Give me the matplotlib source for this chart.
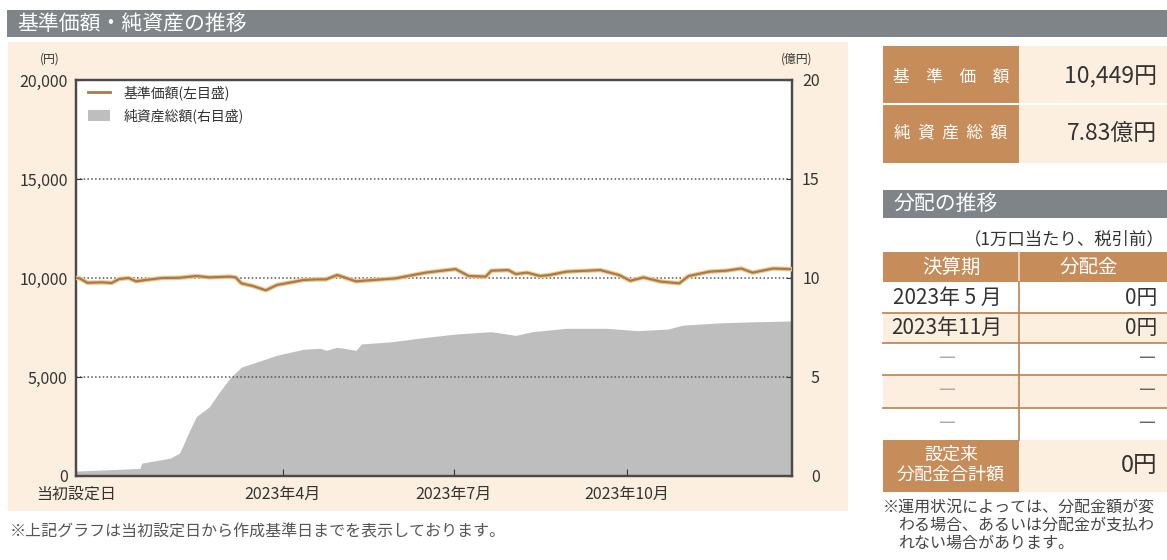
import matplotlib
matplotlib.use("Agg")
import matplotlib.pyplot as plt
from matplotlib.patches import Rectangle, Patch
from matplotlib.lines import Line2D
import pandas as pd

plt.rcParams['font.family'] = ['Noto Sans CJK JP', 'DejaVu Sans']

W, H = 1167, 560

# NAV per 10,000 units (yen)
nav_dates = ['2022-12-12', '2022-12-14', '2022-12-18', '2022-12-26', '2022-12-31',
             '2023-01-04', '2023-01-09', '2023-01-13', '2023-01-18', '2023-01-27',
             '2023-02-05', '2023-02-14', '2023-02-21', '2023-03-04', '2023-03-07',
             '2023-03-10', '2023-03-16', '2023-03-23', '2023-03-29', '2023-04-05',
             '2023-04-12', '2023-04-19', '2023-04-24', '2023-04-30', '2023-05-10',
             '2023-05-15', '2023-05-31', '2023-06-16', '2023-07-02', '2023-07-09',
             '2023-07-18', '2023-07-21', '2023-07-30', '2023-08-03', '2023-08-09',
             '2023-08-16', '2023-08-21', '2023-08-30', '2023-09-17', '2023-09-27',
             '2023-10-03', '2023-10-10', '2023-10-19', '2023-10-29', '2023-11-03',
             '2023-11-14', '2023-11-23', '2023-12-01', '2023-12-07', '2023-12-18',
             '2023-12-27']
nav_values = [10000, 9980, 9760, 9780, 9750,
              9950, 10000, 9830, 9900, 10000,
              10010, 10100, 10030, 10070, 10030,
              9730, 9600, 9380, 9650, 9770,
              9900, 9930, 9930, 10150, 9830,
              9870, 9980, 10270, 10450, 10100,
              10070, 10370, 10400, 10200, 10270,
              10100, 10150, 10320, 10400, 10150,
              9860, 10030, 9820, 9730, 10100,
              10320, 10370, 10480, 10270, 10480,
              10449]

# net assets (100 million yen)
asset_dates = ['2022-12-12', '2023-01-15', '2023-01-16', '2023-01-31', '2023-02-05',
               '2023-02-07', '2023-02-10', '2023-02-14', '2023-02-21', '2023-02-26',
               '2023-03-04', '2023-03-10', '2023-03-18', '2023-03-29', '2023-04-12',
               '2023-04-21', '2023-04-24', '2023-04-30', '2023-05-10', '2023-05-13',
               '2023-05-29', '2023-06-16', '2023-07-02', '2023-07-21', '2023-08-03',
               '2023-08-12', '2023-08-30', '2023-09-20', '2023-10-07', '2023-10-23',
               '2023-10-31', '2023-11-21', '2023-12-09', '2023-12-28']
asset_values = [0.25, 0.38, 0.65, 0.9, 1.15,
                1.55, 2.2, 3.0, 3.5, 4.2,
                4.95, 5.5, 5.75, 6.1, 6.4,
                6.45, 6.35, 6.5, 6.35, 6.67,
                6.78, 7.0, 7.17, 7.29, 7.1,
                7.29, 7.46, 7.46, 7.34, 7.42,
                7.62, 7.74, 7.79, 7.83]

x_tick_dates = ['2022-12-12', '2023-04-01', '2023-07-01', '2023-10-01']
x_tick_labels = ['当初設定日', '2023年4月', '2023年7月', '2023年10月']
left_ticks = [0, 5000, 10000, 15000, 20000]
right_ticks = [0, 5, 10, 15, 20]

nav_latest = '10,449円'
asset_latest = '7.83億円'
dist_periods = ['2023年 5 月', '2023年11月', '－', '－', '－']
dist_amounts = ['0円', '0円', '－', '－', '－']
dist_total = '0円'

GRAY_HEAD = '#7e8487'
CREAM = '#fdefdf'
BROWN = '#c68d5a'
TEXT = '#333333'

fig = plt.figure(figsize=(W / 100, H / 100), dpi=100)


def box(x0, y0, x1, y1, color):
    fig.patches.append(Rectangle((x0 / W, 1 - y1 / H), (x1 - x0) / W, (y1 - y0) / H,
                                 transform=fig.transFigure, facecolor=color,
                                 edgecolor='none', zorder=-1))


def hline(x0, x1, y, color, lw=1.5):
    fig.add_artist(Line2D([x0 / W, x1 / W], [1 - y / H, 1 - y / H],
                          transform=fig.transFigure, color=color, lw=lw))


def vline(x, y0, y1, color, lw=1.2):
    fig.add_artist(Line2D([x / W, x / W], [1 - y0 / H, 1 - y1 / H],
                          transform=fig.transFigure, color=color, lw=lw))


def txt(x, y, s, **kw):
    kw.setdefault('va', 'center')
    kw.setdefault('color', TEXT)
    fig.text(x / W, 1 - y / H, s, **kw)


# headers and background panels
box(7, 10, W, 37, GRAY_HEAD)
txt(17, 24, '基準価額・純資産の推移', color='white', fontsize=15)
box(8, 42, 848, 511, CREAM)

# chart
nav_x = pd.to_datetime(nav_dates)
asset_x = pd.to_datetime(asset_dates)
ticks_x = pd.to_datetime(x_tick_dates)

ax = fig.add_axes([76 / W, 1 - 476 / H, (792 - 76) / W, (476 - 80) / H])
ax2 = ax.twinx()
ax.set_zorder(2)
ax2.set_zorder(1)
ax.patch.set_visible(False)
ax2.patch.set_visible(True)
ax2.set_facecolor('white')

ax2.fill_between(asset_x, asset_values, color='#bebebe', lw=0)
ax2.set_ylim(0, 20)
ax2.set_yticks(right_ticks)
for lab in ax2.get_yticklabels():
    lab.set_ha('right')

for g in left_ticks[1:-1]:
    ax.axhline(g, color='#555555', lw=1.1, ls=(0, (1, 1.5)), zorder=1)
ax.plot(nav_x, nav_values, color='#f2c690', lw=3.2, zorder=3, solid_joinstyle='round')
ax.plot(nav_x, nav_values, color='#a97b47', lw=1.6, zorder=4, solid_joinstyle='round')
ax.set_ylim(0, 20000)
ax.set_yticks(left_ticks)
ax.set_yticklabels([f'{v:,}' for v in left_ticks])
ax.set_xlim(pd.Timestamp('2022-12-12'), pd.Timestamp('2023-12-28'))
ax.set_xticks(ticks_x)
ax.set_xticklabels(x_tick_labels)

for a in (ax, ax2):
    for s in a.spines.values():
        s.set_color('#4a4a4a')
        s.set_linewidth(1.6)
ax.tick_params(axis='y', direction='in', length=4, color='#333333', labelsize=11.5,
               labelcolor=TEXT, pad=6)
ax2.tick_params(axis='y', direction='in', length=4, color='#333333', labelsize=11.5,
                labelcolor=TEXT, pad=20)
ax.tick_params(axis='x', direction='in', length=5, color='#333333', labelsize=11.5,
               labelcolor=TEXT, pad=7)

handles = [Line2D([], [], color='#a97b47', lw=2),
           Patch(facecolor='#bebebe', edgecolor='none')]
ax.legend(handles, ['基準価額(左目盛)', '純資産総額(右目盛)'], loc='upper left',
          bbox_to_anchor=(0.009, 1.0), frameon=False, fontsize=10,
          borderaxespad=0.2, borderpad=0.2,
          handlelength=1.6, handleheight=0.8, labelspacing=0.6, handletextpad=0.95,
          labelcolor=TEXT)

txt(50, 59, '(円)', fontsize=8.5, ha='center')
txt(797, 59, '(億円)', fontsize=8.5, ha='center')

txt(10, 532, '※上記グラフは当初設定日から作成基準日までを表示しております。',
    fontsize=11.5, color='#555555')

# right panel: latest values
box(883, 46, 1019, 163, BROWN)
box(1019, 46, W, 163, CREAM)
hline(883, W, 104, 'white', lw=1.5)
txt(951, 77, '基　準　価　額', color='white', fontsize=12, ha='center')
txt(951, 133, '純  資  産  総  額', color='white', fontsize=12, ha='center')
txt(1157, 77, nav_latest, fontsize=16.5, ha='right')
txt(1157, 133, asset_latest, fontsize=16.5, ha='right')

# distribution table
box(883, 190, W, 218, GRAY_HEAD)
txt(894, 204, '分配の推移', color='white', fontsize=15)
txt(1165, 239, '（1万口当たり、税引前）', fontsize=12.5, ha='right')
box(883, 252, W, 282, BROWN)
txt(951, 267, '決算期', color='white', fontsize=14, ha='center')
txt(1089, 267, '分配金', color='white', fontsize=14, ha='center')

row_edges = [282, 313, 343, 375, 408, 440]
for i, (p, a) in enumerate(zip(dist_periods, dist_amounts)):
    y0, y1 = row_edges[i], row_edges[i + 1]
    box(883, y0, W, y1, 'white' if i % 2 == 0 else CREAM)
    yc = (y0 + y1) / 2
    txt(947, yc, p, fontsize=15, ha='center', color='#aaaaaa' if p == '－' else TEXT)
    txt(1157, yc, a, fontsize=15, ha='right', color='#666666' if a == '－' else TEXT)
    if i > 0:
        hline(883, W, y0, '#c08a58', lw=1.3)
vline(1019, 252, 282, '#f3dcc4', lw=1.2)
vline(1019, 282, 440, '#b98552', lw=1.2)

box(883, 440, 1019, 492, BROWN)
box(1019, 440, W, 492, CREAM)
txt(951, 455, '設定来', color='white', fontsize=13, ha='center')
txt(951, 475, '分配金合計額', color='white', fontsize=13, ha='center')
txt(1157, 466, dist_total, fontsize=17, ha='right')

txt(883, 507, '※運用状況によっては、分配金額が変', fontsize=11.5, color='#444444')
txt(898, 525, 'わる場合、あるいは分配金が支払わ', fontsize=11.5, color='#444444')
txt(898, 543, 'れない場合があります。', fontsize=11.5, color='#444444')

fig.savefig('out.png', dpi=100)
